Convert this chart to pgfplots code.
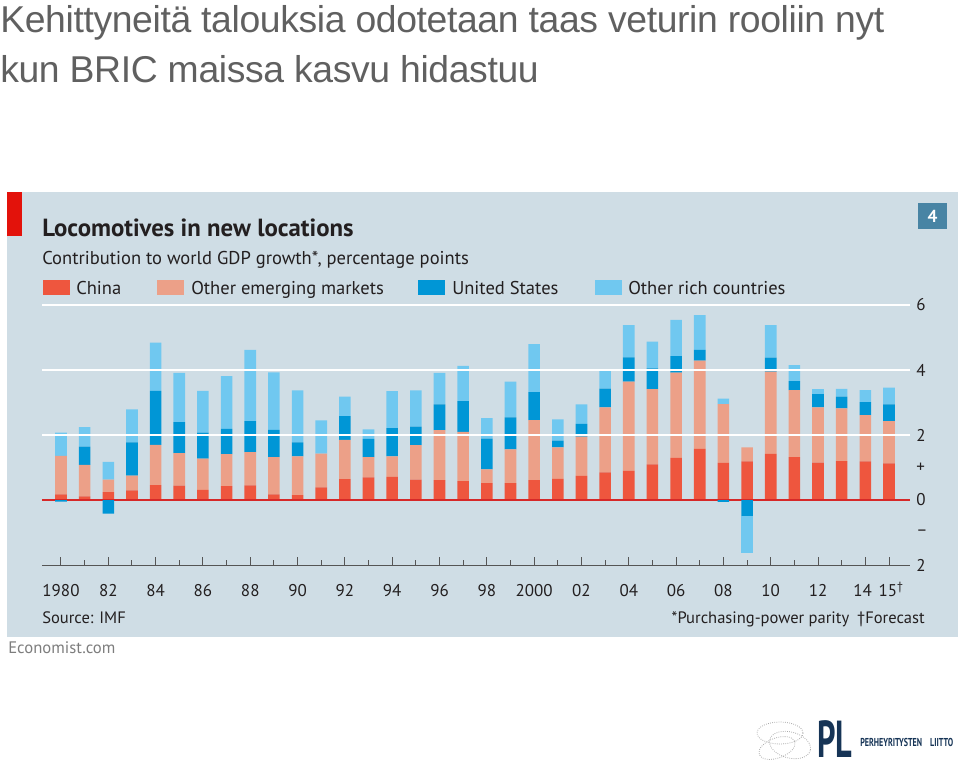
\documentclass[border=0pt]{standalone}
\usepackage{fontspec}
\usepackage{pgfplots}
\pgfplotsset{compat=1.18}
\usepackage{pgfplotstable}
\setmainfont{PT Sans}
\newfontfamily\econ{PT Sans}
\newfontfamily\titlefont{Liberation Sans}[LetterSpace=-1]
\newfontfamily\logofont{PT Sans}[FakeStretch=0.62]
\newfontfamily\logosmall{PT Sans}[FakeStretch=0.7]

\definecolor{china}{RGB}{238,86,62}
\definecolor{oem}{RGB}{236,160,136}
\definecolor{usa}{RGB}{0,150,214}
\definecolor{orc}{RGB}{112,200,240}
\definecolor{panel}{RGB}{207,221,229}
\definecolor{econred}{RGB}{227,18,11}
\definecolor{zeroline}{RGB}{214,40,40}
\definecolor{axgray}{RGB}{85,85,85}
\definecolor{txt}{RGB}{35,31,32}
\definecolor{boxblue}{RGB}{72,132,164}
\definecolor{titlegray}{RGB}{96,96,96}
\definecolor{navy}{RGB}{22,52,86}

\pgfplotstableread{
year china oem usp orcp
1980 0.17 1.19 0.00 0.71
1981 0.11 0.97 0.56 0.60
1982 0.24 0.39 0.00 0.54
1983 0.30 0.45 1.02 1.02
1984 0.46 1.24 1.66 1.48
1985 0.44 1.00 0.96 1.51
1986 0.31 0.96 0.80 1.29
1987 0.43 0.98 0.78 1.62
1988 0.45 1.02 0.96 2.19
1989 0.17 1.15 0.84 1.77
1990 0.15 1.19 0.43 1.60
1991 0.39 1.04 0.00 1.02
1992 0.64 1.21 0.73 0.60
1993 0.70 0.62 0.56 0.29
1994 0.71 0.63 0.87 1.14
1995 0.63 1.06 0.57 1.11
1996 0.61 1.54 0.79 0.97
1997 0.58 1.52 0.94 1.09
1998 0.52 0.42 0.95 0.63
1999 0.52 1.04 0.98 1.10
2000 0.61 1.85 0.86 1.48
2001 0.65 0.97 0.21 0.65
2002 0.74 1.21 0.39 0.60
2003 0.85 2.00 0.58 0.60
2004 0.90 2.74 0.75 0.99
2005 1.10 2.31 0.64 0.82
2006 1.30 2.62 0.51 1.11
2007 1.57 2.72 0.33 1.07
2008 1.14 1.81 0.00 0.17
2009 1.19 0.43 0.00 0.00
2010 1.42 2.53 0.43 1.00
2011 1.32 2.06 0.28 0.49
2012 1.15 1.70 0.41 0.15
2013 1.20 1.62 0.36 0.24
2014 1.19 1.42 0.40 0.37
2015 1.13 1.30 0.51 0.52
}\postab

\pgfplotstableread{
year usn orcn
1980 -0.05 0.00
1982 -0.42 0.00
2008 -0.06 0.00
2009 -0.49 -1.15
}\negtab

\pgfplotsset{
  econaxis/.style={
    scale only axis, width=651pt, height=195pt,
    xmin=1979.197, xmax=2015.888, ymin=-2, ymax=6,
    at={(31.5pt,-423.75pt)}, anchor=south west,
    ybar stacked, bar width=0.49, clip=false,
  }
}

\begin{document}
\begin{tikzpicture}
\path[use as bounding box] (0,0) rectangle (720pt,-573.75pt);

\begin{scope}[x=0.75pt,y=-0.75pt]
  % page title
  \node[anchor=base west, inner sep=0pt, text=titlegray,
        font=\titlefont\fontsize{28}{30}\selectfont] at (0,32)
        {Kehittyneitä talouksia odotetaan taas veturin rooliin nyt};
  \node[anchor=base west, inner sep=0pt, text=titlegray,
        font=\titlefont\fontsize{28}{30}\selectfont] at (0,82)
        {kun BRIC maissa kasvu hidastuu};
  % panel
  \fill[panel] (7,192) rectangle (958,637);
  \fill[econred] (7,192) rectangle (22,236);
  \fill[boxblue] (918,203) rectangle (947,229);
  \node[text=white, font=\econ\bfseries\fontsize{13}{14}\selectfont, inner sep=0pt] at (932.5,216.5) {4};
  \node[anchor=base west, inner sep=0pt, text=txt,
        font=\econ\bfseries\fontsize{18.6}{20}\selectfont] at (42,236)
        {Locomotives in new locations};
  \node[anchor=base west, inner sep=0pt, text=txt,
        font=\econ\fontsize{13.9}{15}\selectfont] at (42,264)
        {Contribution to world GDP growth*, percentage points};
  % legend
  \fill[china] (43,280) rectangle (70,295);
  \node[anchor=base west, inner sep=0pt, text=txt, font=\econ\fontsize{13.9}{15}\selectfont] at (76,294) {China};
  \fill[oem] (157,280) rectangle (184,295);
  \node[anchor=base west, inner sep=0pt, text=txt, font=\econ\fontsize{13.9}{15}\selectfont] at (191,294) {Other emerging markets};
  \fill[usa] (418,280) rectangle (445,295);
  \node[anchor=base west, inner sep=0pt, text=txt, font=\econ\fontsize{13.9}{15}\selectfont] at (452,294) {United States};
  \fill[orc] (595,280) rectangle (622,295);
  \node[anchor=base west, inner sep=0pt, text=txt, font=\econ\fontsize{13.9}{15}\selectfont] at (628,294) {Other rich countries};
  % footer
  \node[anchor=base west, inner sep=0pt, text=txt, font=\econ\fontsize{12.4}{14}\selectfont] at (42,623) {Source: IMF};
  \node[anchor=base east, inner sep=0pt, text=txt, font=\econ\fontsize{12.4}{14}\selectfont] at (925,623) {*Purchasing-power parity\hspace{6pt}\textdagger Forecast};
  \node[anchor=base west, inner sep=0pt, text={rgb,255:red,125;green,125;blue,125}, font=\econ\fontsize{12.5}{14}\selectfont] at (8,653) {Economist.com};
  % logo
  \begin{scope}[draw={rgb,255:red,170;green,170;blue,170}, densely dotted, line width=0.6pt]
    \draw (780,733) ellipse [x radius=23, y radius=11];
    \draw[rotate around={-15:(790,745)}] (790,745) ellipse [x radius=21, y radius=13];
    \draw[rotate around={20:(777,748)}] (777,748) ellipse [x radius=19, y radius=10];
  \end{scope}
  \node[anchor=base west, inner sep=0pt, text depth=0pt, text=navy, font=\logofont\bfseries\fontsize{39}{40}\selectfont] at (817,757) {PL};
  \node[anchor=base west, inner sep=0pt, text=navy, font=\logosmall\bfseries\fontsize{8.6}{9}\selectfont] at (860,746) {PERHEYRITYSTEN\hspace{6pt}LIITTO};
\end{scope}

% main axis: positive contributions
\begin{axis}[econaxis,
  axis x line*=bottom, axis y line*=right,
  x axis line style={draw=axgray, line width=0.75pt, -},
  y axis line style={draw=none},
  tick align=inside,
  xtick={1980,1982,...,2014,2015},
  xticklabels={1980,82,84,86,88,90,92,94,96,98,2000,02,04,06,08,10,12,14\rule{4pt}{0pt},\rule{3pt}{0pt}15\textsuperscript{\textdagger}},
  minor xtick={1981,1983,...,2013},
  xtick style={draw=axgray, line width=0.75pt},
  major tick length=6pt, minor tick length=3.5pt,
  ytick={-2,-1,0,1,2,4,6},
  yticklabels={2,–,0,+,2,4,6},
  ytick style={draw=none},
  xticklabel style={anchor=base, inner sep=0pt, yshift=-23.25pt, text=txt, font=\econ\fontsize{12.75}{14}\selectfont},
  yticklabel style={anchor=west, inner sep=0pt, xshift=4.5pt, text=txt, font=\econ\fontsize{12.75}{14}\selectfont},
  /pgf/number format/assume math mode=true,
]
  \draw[white, line width=1.5pt] (axis cs:1979.197,2) -- (axis cs:2015.888,2);
  \draw[white, line width=1.5pt] (axis cs:1979.197,4) -- (axis cs:2015.888,4);
  \draw[white, line width=1.5pt] (axis cs:1979.197,6) -- (axis cs:2015.888,6);
  \addplot[fill=china, draw=none] table[x=year, y=china] {\postab};
  \addplot[fill=oem, draw=none] table[x=year, y=oem] {\postab};
  \addplot[fill=usa, draw=none] table[x=year, y=usp] {\postab};
  \addplot[fill=orc, draw=none] table[x=year, y=orcp] {\postab};
\end{axis}

% overlay axis: negative contributions
\begin{axis}[econaxis, hide axis]
  \addplot[fill=usa, draw=none] table[x=year, y=usn] {\negtab};
  \addplot[fill=orc, draw=none] table[x=year, y=orcn] {\negtab};
  \draw[zeroline, line width=1.4pt] (axis cs:1979.197,0) -- (axis cs:2015.888,0);
\end{axis}
\end{tikzpicture}
\end{document}
